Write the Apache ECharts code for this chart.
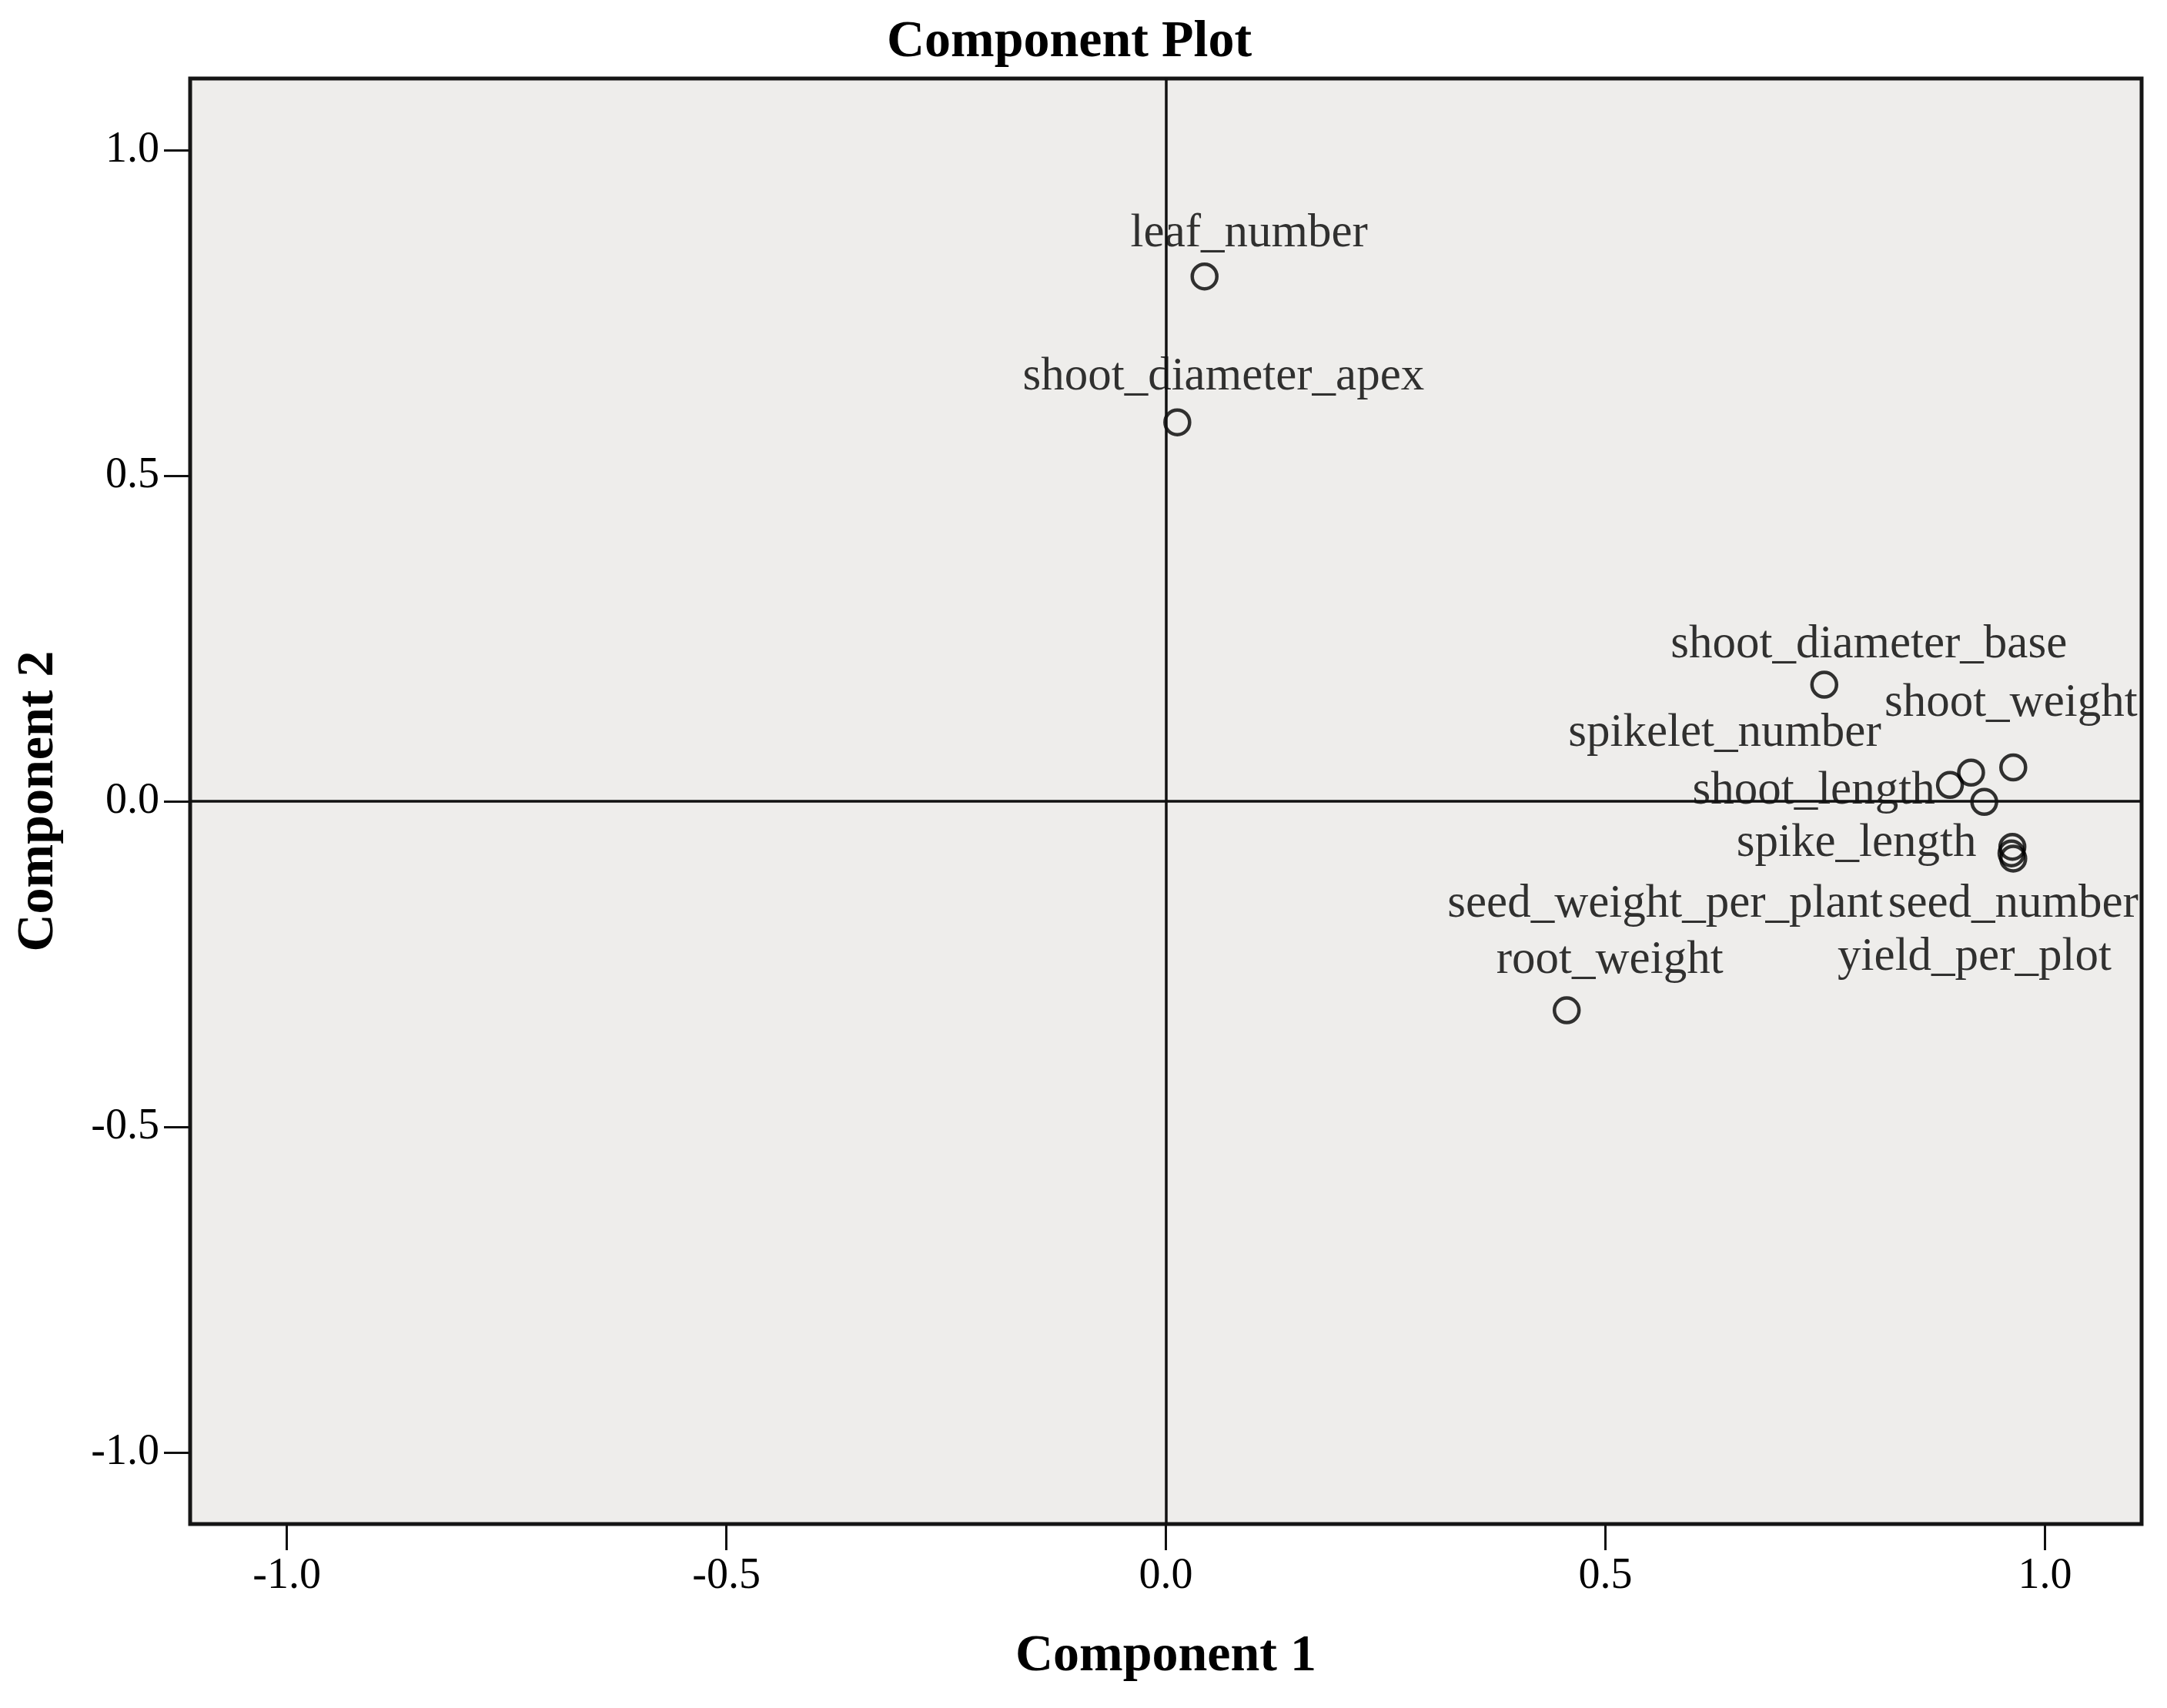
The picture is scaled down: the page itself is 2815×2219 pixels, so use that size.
<!DOCTYPE html>
<html>
<head>
<meta charset="utf-8">
<script src="https://cdn.jsdelivr.net/npm/echarts@6/dist/echarts.min.js"></script>
<style>
html,body{margin:0;padding:0;background:#fff;}
#chart{width:2815px;height:2219px;}
</style>
</head>
<body>
<div id="chart"></div>
<script>
// ---- data ----
const variableNames = [
  "leaf_number", "shoot_diameter_apex", "shoot_diameter_base", "shoot_weight",
  "spikelet_number", "shoot_length", "spike_length", "seed_weight_per_plant",
  "seed_number", "yield_per_plot", "root_weight"
];
const component1 = [0.044, 0.013, 0.749, 0.964, 0.916, 0.892, 0.931, 0.963, 0.964, 0.962, 0.456];
const component2 = [0.806, 0.582, 0.179, 0.052, 0.044, 0.025, -0.001, -0.070, -0.088, -0.080, -0.321];
const tickValues = [-1.0, -0.5, 0.0, 0.5, 1.0];

// ---- label layout (pixel offsets of label centre from point) ----
const labelOffsets = {
  leaf_number: [58, -55],
  shoot_diameter_apex: [60, -59],
  shoot_diameter_base: [58, -52],
  shoot_weight: [-3, -83],
  spikelet_number: [-320, -51],
  shoot_length: [-177, 8],
  spike_length: [-166, 54],
  seed_weight_per_plant: [-451, 75],
  seed_number: [0, 60],
  yield_per_plot: [-48, 135],
  root_weight: [56, -65]
};

const FONT = "'Liberation Serif', 'DejaVu Serif', serif";

const points = variableNames.map((n, i) => ({
  name: n,
  value: [component1[i], component2[i]]
}));

const chart = echarts.init(document.getElementById('chart'), null, {renderer: 'canvas'});
chart.setOption({
  animation: false,
  backgroundColor: '#ffffff',
  title: {
    text: 'Component Plot',
    left: 1384,
    textAlign: 'center',
    top: 16,
    textStyle: { fontFamily: FONT, fontWeight: 'bold', fontSize: 68, color: '#000' }
  },
  grid: {
    left: 247, right: 33, top: 102, bottom: 239,
    show: true,
    backgroundColor: '#eeedeb',
    borderColor: '#151515',
    borderWidth: 5
  },
  xAxis: {
    type: 'value',
    min: -1.11, max: 1.11,
    name: 'Component 1',
    nameLocation: 'middle',
    nameGap: 138,
    nameTextStyle: { fontFamily: FONT, fontWeight: 'bold', fontSize: 68, color: '#000' },
    axisLine: { show: false, onZero: false },
    splitLine: { show: false },
    axisTick: { show: true, inside: false, length: 34, customValues: tickValues,
      lineStyle: { color: '#111', width: 3 } },
    axisLabel: { customValues: tickValues, margin: 40, fontFamily: FONT, fontSize: 56, color: '#000',
      formatter: v => v.toFixed(1) }
  },
  yAxis: {
    type: 'value',
    min: -1.11, max: 1.11,
    name: 'Component 2',
    nameLocation: 'middle',
    nameGap: 163,
    nameRotate: 90,
    nameTextStyle: { fontFamily: FONT, fontWeight: 'bold', fontSize: 68, color: '#000' },
    axisLine: { show: false, onZero: false },
    splitLine: { show: false },
    axisTick: { show: true, inside: false, length: 34, customValues: tickValues,
      lineStyle: { color: '#111', width: 3 } },
    axisLabel: { customValues: tickValues, margin: 40, fontFamily: FONT, fontSize: 56, color: '#000',
      formatter: v => v.toFixed(1) }
  },
  series: [{
    type: 'scatter',
    data: points,
    symbol: 'circle',
    symbolSize: 32,
    itemStyle: { color: 'rgba(0,0,0,0)', borderColor: '#000', borderWidth: 4.5 },
    label: {
      show: true,
      position: 'inside',
      align: 'center',
      verticalAlign: 'middle',
      formatter: p => p.name,
      fontFamily: FONT,
      fontSize: 61,
      color: '#000'
    },
    labelLayout: function (params) {
      const off = labelOffsets[variableNames[params.dataIndex]] || [0, 0];
      return { dx: off[0], dy: off[1], hideOverlap: false };
    },
    emphasis: { disabled: true },
    markLine: {
      silent: true,
      symbol: ['none', 'none'],
      label: { show: false },
      lineStyle: { color: '#111', width: 3.5, type: 'solid' },
      data: [{ xAxis: 0 }, { yAxis: 0 }]
    },
    z: 3
  }]
});
</script>
</body>
</html>
